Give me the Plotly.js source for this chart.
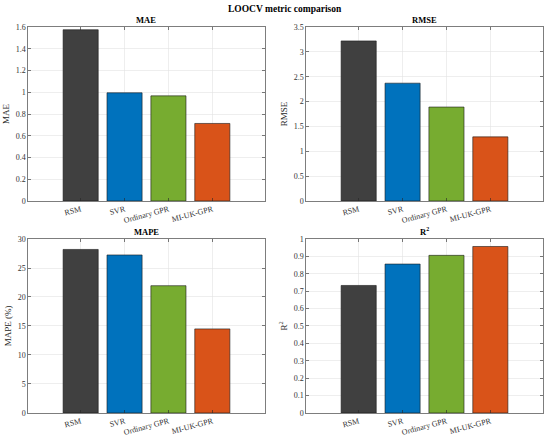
<!DOCTYPE html>
<html><head><meta charset="utf-8">
<script src="https://cdn.plot.ly/plotly-3.0.1.min.js"></script>
<style>html,body{margin:0;padding:0;background:#fff}#chart{width:550px;height:440px}</style>
</head><body><div id="chart"></div>
<script>
const categories = ['RSM', 'SVR', 'Ordinary GPR', 'MI-UK-GPR'];
const barColors = ['#404040', '#0072BD', '#77AC30', '#D95319'];
const maeValues = [1.575, 0.995, 0.967, 0.713];
const rmseValues = [3.22, 2.37, 1.89, 1.29];
const mapeValues = [28.2, 27.25, 21.95, 14.5];
const r2Values = [0.733, 0.856, 0.906, 0.957];
const panelTitles = ['MAE', 'RMSE', 'MAPE', 'R<sup>2</sup>'];
const yTitles = ['MAE', 'RMSE', 'MAPE (%)', 'R<sup>2</sup>'];
const yRanges = [[0, 1.6], [0, 3.5], [0, 30], [0, 1]];
const yDticks = [0.2, 0.5, 5, 0.1];
const mainTitle = 'LOOCV metric comparison';

const font = 'Liberation Serif, Times New Roman, serif';
const series = [maeValues, rmseValues, mapeValues, r2Values];
const xDomains = [[0.0509, 0.4818], [0.5564, 0.9873], [0.0509, 0.4818], [0.5564, 0.9873]];
const yDomains = [[0.5432, 0.9386], [0.5432, 0.9386], [0.0614, 0.4568], [0.0614, 0.4568]];

const data = series.map((vals, i) => ({
  type: 'bar', x: categories, y: vals,
  xaxis: 'x' + (i === 0 ? '' : i + 1), yaxis: 'y' + (i === 0 ? '' : i + 1),
  width: 0.8,
  marker: {color: barColors, line: {color: '#1a1a1a', width: 0.6}},
  hoverinfo: 'x+y', showlegend: false
}));

const layout = {
  width: 550, height: 440,
  margin: {l: 0, r: 0, t: 0, b: 0},
  paper_bgcolor: '#fff', plot_bgcolor: '#fff',
  font: {family: font, size: 8, color: '#262626'},
  bargap: 0.2,
  annotations: [{
    text: '<b>' + mainTitle + '</b>', xref: 'paper', yref: 'paper',
    x: 0.518, y: 1 - 9 / 440, xanchor: 'center', yanchor: 'middle',
    showarrow: false, font: {family: font, size: 9.5, color: '#000'}
  }]
};

for (let i = 0; i < 4; i++) {
  const s = i === 0 ? '' : String(i + 1);
  layout['xaxis' + s] = {
    domain: xDomains[i], anchor: 'y' + s, type: 'category',
    range: [-1.2, 4.2], tickangle: -15,
    ticks: 'inside', ticklen: 3, tickcolor: '#262626', tickwidth: 0.6,
    showline: true, linecolor: '#262626', linewidth: 0.6, mirror: 'ticks',
    showgrid: true, gridcolor: '#e2e2e2', gridwidth: 0.6,
    tickfont: {family: font, size: 8, color: '#333'},
    fixedrange: true, zeroline: false
  };
  layout['yaxis' + s] = {
    domain: yDomains[i], anchor: 'x' + s,
    range: yRanges[i], dtick: yDticks[i], tick0: 0,
    ticks: 'inside', ticklen: 3, tickcolor: '#262626', tickwidth: 0.6,
    showline: true, linecolor: '#262626', linewidth: 0.6, mirror: 'ticks',
    showgrid: true, gridcolor: '#e2e2e2', gridwidth: 0.6,
    tickfont: {family: font, size: 8, color: '#333'},
    title: {text: yTitles[i], font: {family: font, size: 9, color: '#262626'}, standoff: 4},
    zeroline: false, fixedrange: true
  };
  const xd = xDomains[i], yd = yDomains[i];
  layout.annotations.push({
    text: '<b>' + panelTitles[i] + '</b>', xref: 'paper', yref: 'paper',
    x: (xd[0] + xd[1]) / 2, y: yd[1], xanchor: 'center', yanchor: 'bottom',
    showarrow: false, font: {family: font, size: 8.5, color: '#000'}
  });
}

Plotly.newPlot('chart', data, layout, {displayModeBar: false, staticPlot: true});
</script></body></html>
